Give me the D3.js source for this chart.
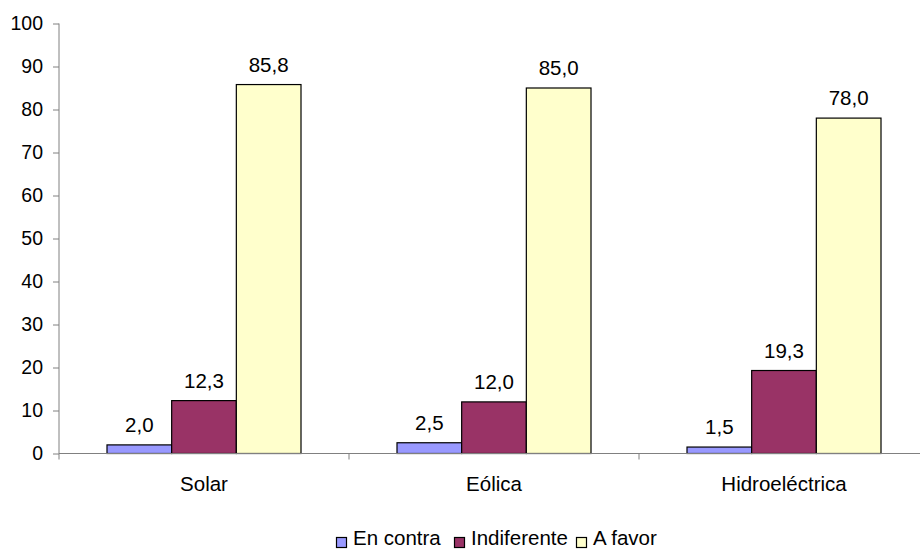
<!DOCTYPE html>
<html>
<head>
<meta charset="utf-8">
<script src="https://cdn.jsdelivr.net/npm/d3@7/dist/d3.min.js"></script>
<style>
  html, body { margin: 0; padding: 0; background: #fff; }
  svg { display: block; font-family: "Liberation Sans", Arial, sans-serif; }
</style>
</head>
<body>
<svg id="chart" width="920" height="550"></svg>
<script>
// Opinion sobre fuentes de energía (%)
const categories = ["Solar", "Eólica", "Hidroeléctrica"];
const seriesNames = ["En contra", "Indiferente", "A favor"];
const enContra = [2.0, 2.5, 1.5];
const indiferente = [12.3, 12.0, 19.3];
const aFavor = [85.8, 85.0, 78.0];
const yTicks = [0, 10, 20, 30, 40, 50, 60, 70, 80, 90, 100];
const colors = ["#9999FF", "#993366", "#FFFFCC"];

const seriesValues = [enContra, indiferente, aFavor];
const rows = categories.map((c, i) => ({
  category: c,
  values: seriesNames.map((s, j) => ({ key: s, value: seriesValues[j][i], color: colors[j] }))
}));

const svg = d3.select("#chart");
const fontSize = 20.5;
const tickFontSize = 19.5;
const axisColor = "#808080";

const x0 = d3.scaleBand().domain(categories).range([59, 929]).paddingInner(0).paddingOuter(0);
const x1 = d3.scaleBand().domain(seriesNames)
  .range([48, x0.bandwidth() - 48]).padding(0);
const y = d3.scaleLinear().domain([0, 100]).range([453.5, 23.5]);

// y axis
const yAxis = svg.append("g").attr("transform", "translate(59,0)")
  .call(d3.axisLeft(y).tickValues(yTicks).tickSize(6).tickPadding(10).tickFormat(d3.format("d")));
yAxis.select(".domain").attr("stroke", axisColor).attr("d", `M0,${y(100)}V${y(0)}`);
yAxis.selectAll(".tick line").attr("stroke", axisColor);
yAxis.selectAll(".tick text").attr("fill", "#000").attr("font-size", tickFontSize)
  .attr("font-family", "Liberation Sans, Arial, sans-serif");

// bars
const groups = svg.append("g").selectAll("g").data(rows).join("g")
  .attr("transform", d => `translate(${x0(d.category)},0)`);

groups.selectAll("rect").data(d => d.values).join("rect")
  .attr("x", d => x1(d.key))
  .attr("y", d => y(d.value))
  .attr("width", x1.bandwidth())
  .attr("height", d => y(0) - y(d.value))
  .attr("fill", d => d.color)
  .attr("stroke", "#000")
  .attr("stroke-width", 1.2);

// value labels
groups.selectAll("text.val").data(d => d.values).join("text")
  .attr("class", "val")
  .attr("x", d => x1(d.key) + x1.bandwidth() / 2)
  .attr("y", d => y(d.value) - 13)
  .attr("text-anchor", "middle")
  .attr("font-size", fontSize)
  .attr("fill", "#000")
  .text(d => d3.format(".1f")(d.value).replace(".", ","));

// x axis
const xAxis = svg.append("g").attr("transform", `translate(0,${y(0)})`)
  .call(d3.axisBottom(x0).tickSize(0).tickPadding(0));
xAxis.select(".domain").attr("stroke", axisColor).attr("d", `M59,0H920`);
xAxis.selectAll(".tick text").attr("font-size", fontSize).attr("fill", "#000")
  .attr("font-family", "Liberation Sans, Arial, sans-serif")
  .attr("dy", 0).attr("y", 37);
// category separators
svg.append("g").selectAll("line").data(categories.slice(1)).join("line")
  .attr("x1", d => x0(d)).attr("x2", d => x0(d))
  .attr("y1", y(0)).attr("y2", y(0) + 6)
  .attr("stroke", axisColor);
svg.append("line").attr("x1", 59).attr("x2", 59).attr("y1", y(0)).attr("y2", y(0) + 6)
  .attr("stroke", axisColor);

// legend
const legendItems = [
  { name: seriesNames[0], color: colors[0], x: 336 },
  { name: seriesNames[1], color: colors[1], x: 454 },
  { name: seriesNames[2], color: colors[2], x: 576 }
];
const legend = svg.append("g");
legend.selectAll("rect").data(legendItems).join("rect")
  .attr("x", d => d.x + 0.5).attr("y", 537.5).attr("width", 10).attr("height", 10)
  .attr("fill", d => d.color).attr("stroke", "#000").attr("stroke-width", 1.2);
legend.selectAll("text").data(legendItems).join("text")
  .attr("x", d => d.x + 17).attr("y", 545)
  .attr("font-size", fontSize).attr("fill", "#000")
  .text(d => d.name);
</script>
</body>
</html>
